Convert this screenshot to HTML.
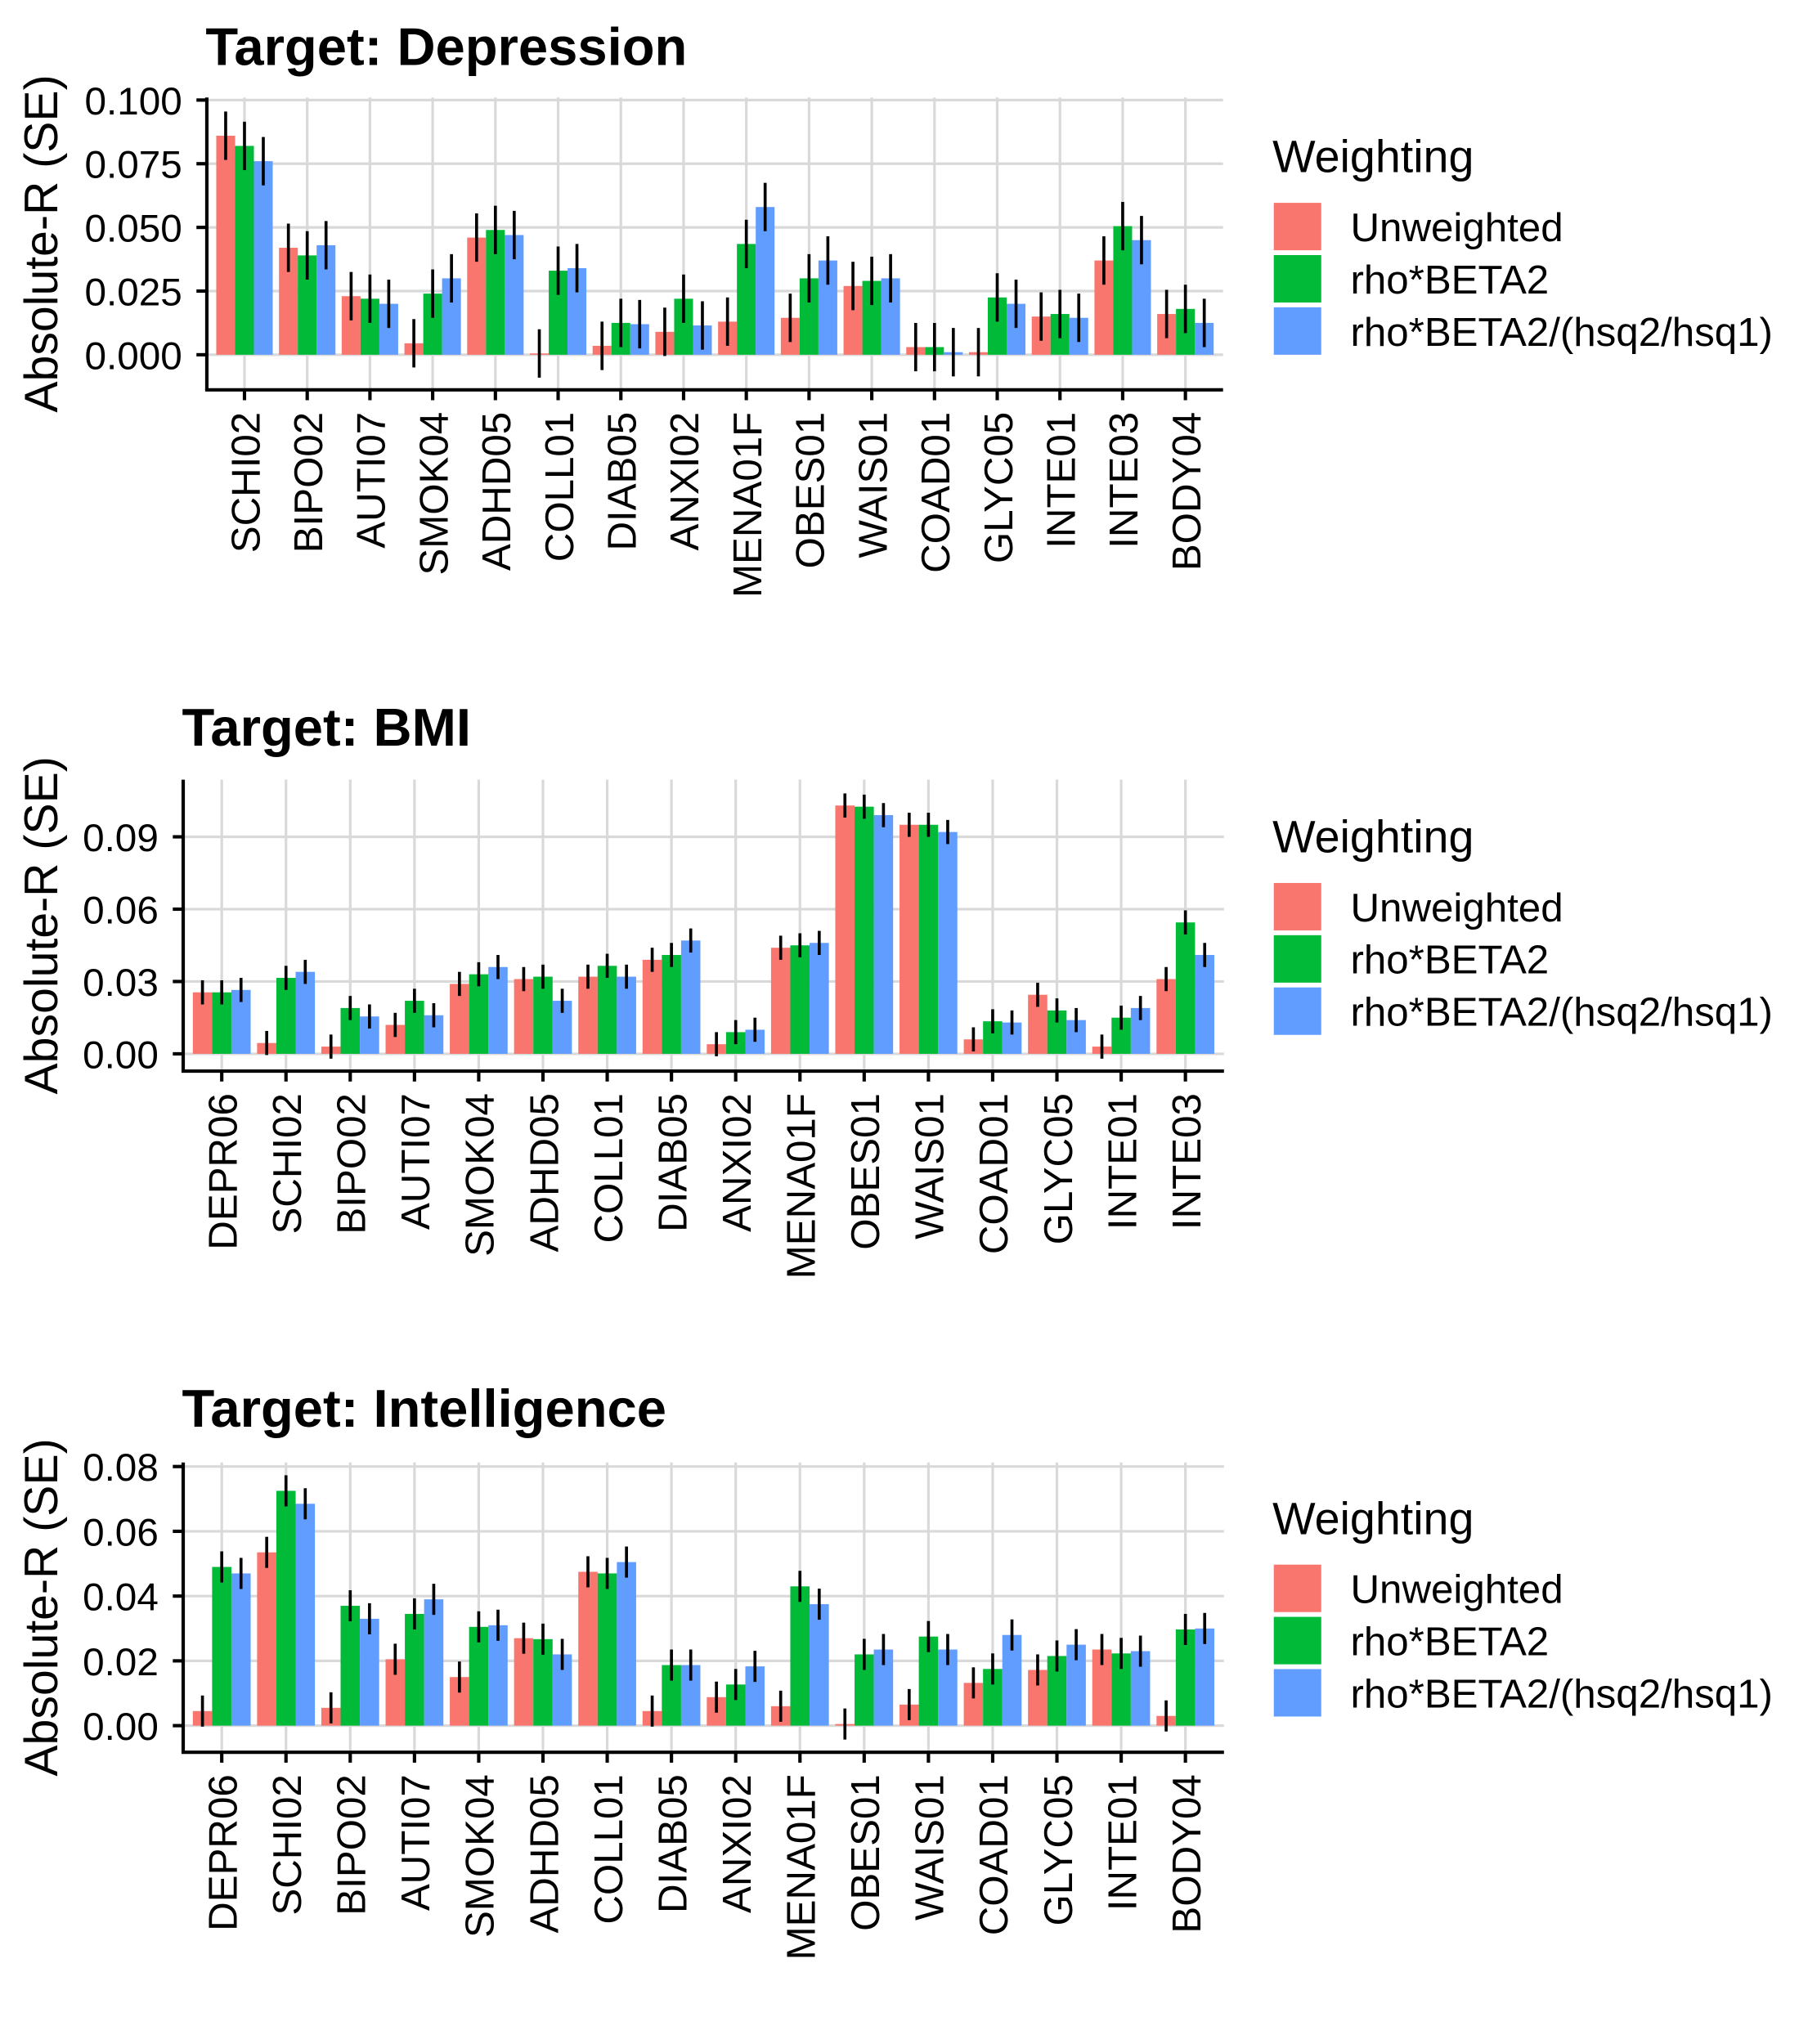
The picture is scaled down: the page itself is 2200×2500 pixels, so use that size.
<!DOCTYPE html>
<html><head><meta charset="utf-8"><style>
html,body{margin:0;padding:0;background:#fff}
svg{display:block}
text{font-family:"Liberation Sans",sans-serif}
</style></head><body>
<svg id="chart" width="2200" height="2500" viewBox="0 0 1384 1573" xmlns="http://www.w3.org/2000/svg"></svg>
<script>
const seriesNames = ["Unweighted","rho*BETA2","rho*BETA2/(hsq2/hsq1)"];
const colors = ["#F8766D","#00BA38","#619CFF"];

const depCats = ["SCHI02","BIPO02","AUTI07","SMOK04","ADHD05","COLL01","DIAB05","ANXI02","MENA01F","OBES01","WAIS01","COAD01","GLYC05","INTE01","INTE03","BODY04"];
const depU = [0.086,0.042,0.023,0.0045,0.046,0.0005,0.0035,0.009,0.013,0.0145,0.027,0.003,0.001,0.015,0.037,0.016];
const depR = [0.082,0.039,0.022,0.024,0.049,0.033,0.0125,0.022,0.0435,0.030,0.029,0.003,0.0225,0.016,0.0505,0.018];
const depH = [0.076,0.043,0.020,0.030,0.047,0.034,0.012,0.0115,0.058,0.037,0.030,0.001,0.020,0.0145,0.045,0.0125];
const depSE = 0.0095;
const depTicks = ["0.000","0.025","0.050","0.075","0.100"];

const bmiCats = ["DEPR06","SCHI02","BIPO02","AUTI07","SMOK04","ADHD05","COLL01","DIAB05","ANXI02","MENA01F","OBES01","WAIS01","COAD01","GLYC05","INTE01","INTE03"];
const bmiU = [0.0255,0.0045,0.003,0.012,0.029,0.031,0.032,0.039,0.004,0.044,0.103,0.095,0.006,0.0245,0.003,0.031];
const bmiR = [0.0255,0.0315,0.019,0.022,0.033,0.032,0.0365,0.041,0.009,0.045,0.1025,0.095,0.0135,0.018,0.015,0.0545];
const bmiH = [0.0265,0.034,0.0155,0.016,0.036,0.022,0.032,0.047,0.010,0.046,0.099,0.092,0.013,0.014,0.019,0.041];
const bmiSE = 0.005;
const bmiTicks = ["0.00","0.03","0.06","0.09"];

const intCats = ["DEPR06","SCHI02","BIPO02","AUTI07","SMOK04","ADHD05","COLL01","DIAB05","ANXI02","MENA01F","OBES01","WAIS01","COAD01","GLYC05","INTE01","BODY04"];
const intU = [0.0045,0.0535,0.0055,0.0205,0.015,0.027,0.0475,0.0045,0.0088,0.006,0.0005,0.0065,0.0132,0.0172,0.0235,0.003];
const intR = [0.049,0.0725,0.037,0.0345,0.0305,0.0267,0.047,0.0187,0.0127,0.043,0.022,0.0275,0.0175,0.0215,0.0223,0.0297];
const intH = [0.047,0.0685,0.033,0.039,0.031,0.022,0.0505,0.0187,0.0183,0.0375,0.0235,0.0235,0.028,0.025,0.023,0.030];
const intSE = 0.0048;
const intTicks = ["0.00","0.02","0.04","0.06","0.08"];

const NS="http://www.w3.org/2000/svg";
const svg=document.getElementById('chart');
function mk(tag,attrs,parent){const e=document.createElementNS(NS,tag);for(const k in attrs)e.setAttribute(k,attrs[k]);(parent||svg).appendChild(e);return e;}

function panel(cfg){
  const g=mk('g',{});
  
  
  const n=cfg.cats.length;
  const step=(cfg.lastX-cfg.firstX)/(n-1);
  const left=cfg.firstX-0.6*step, right=cfg.lastX+0.6*step;
  const y=v=>cfg.y0+(cfg.yRef-cfg.y0)*v/cfg.vRef;
  const x=i=>cfg.firstX+i*step;
  const t=mk('text',{x:left-1,y:cfg.titleY,'font-size':41,'font-weight':'bold',fill:'#000'},g);
  t.textContent=cfg.title;
  
  
  cfg.ticks.forEach(tk=>{
    const gy=y(parseFloat(tk));
    const l=mk('line',{x1:left,x2:right,y1:gy,y2:gy,stroke:'#d9d9d9','stroke-width':2},g);
    
    
  });
  for(let i=0;i<n;i++){
    const l=mk('line',{x1:x(i),x2:x(i),y1:cfg.top,y2:cfg.bottom,stroke:'#d9d9d9','stroke-width':2},g);
    
    
  }
  const gw=0.9*step, bw=gw/3;
  const series=[cfg.u,cfg.r,cfg.h];
  series.forEach((vals,s)=>{
    vals.forEach((v,i)=>{
      const bx=x(i)-gw/2+s*bw;
      const r=mk('rect',{x:bx,y:Math.min(y(v),y(0)),width:bw,height:Math.abs(y(0)-y(v)),fill:colors[s]},g);
      
      
    });
  });
  series.forEach((vals,s)=>{
    vals.forEach((v,i)=>{
      const cx=x(i)-gw/2+(s+0.5)*bw;
      const e=mk('line',{x1:cx,x2:cx,y1:y(v+cfg.se),y2:y(v-cfg.se),stroke:'#000','stroke-width':2.3},g);
      
      
    });
  });
  const ya=mk('line',{x1:left,x2:left,y1:cfg.top,y2:cfg.bottom,stroke:'#000','stroke-width':2.6},g);
  
  
  const xa=mk('line',{x1:left-1.3,x2:right,y1:cfg.bottom,y2:cfg.bottom,stroke:'#000','stroke-width':2.6},g);
  
  
  cfg.ticks.forEach(tk=>{
    const gy=y(parseFloat(tk));
    mk('line',{x1:left-8,x2:left,y1:gy,y2:gy,stroke:'#000','stroke-width':2.6},g);
    const tl=mk('text',{x:left-19,y:gy+11,'font-size':30,'text-anchor':'end',fill:'#000'},g);
    tl.textContent=tk;
    
    
  });
  cfg.cats.forEach((c,i)=>{
    mk('line',{x1:x(i),x2:x(i),y1:cfg.bottom,y2:cfg.bottom+8,stroke:'#000','stroke-width':2.6},g);
    const tl=mk('text',{x:0,y:0,'font-size':31,'text-anchor':'end',fill:'#000',transform:`translate(${x(i)+11.5},${cfg.bottom+17}) rotate(-90)`},g);
    tl.textContent=c;
    
    
  });
  const yt=mk('text',{x:0,y:0,'font-size':36,'text-anchor':'middle',fill:'#000',transform:`translate(44,${(cfg.top+cfg.bottom)/2}) rotate(-90)`},g);
  yt.textContent='Absolute-R (SE)';
  
  
  const lg=mk('g',{},g);
  
  
  const lt=mk('text',{x:979,y:cfg.legY,'font-size':35,fill:'#000'},lg);
  lt.textContent='Weighting';
  
  
  seriesNames.forEach((s,k)=>{
    const ky=cfg.legY+23.5+k*40.2;
    const r=mk('rect',{x:980,y:ky,width:36.5,height:36.5,fill:colors[k]},lg);
    
    
    const tx=mk('text',{x:1039,y:ky+29.5,'font-size':31,fill:'#000'},lg);
    tx.textContent=s;
    
    
  });
}

panel({name:'depression',title:'Target: Depression',titleY:50,cats:depCats,u:depU,r:depR,h:depH,se:depSE,ticks:depTicks,
  firstX:188,lastX:912,y0:273,yRef:77,vRef:0.1,top:75,bottom:300,legY:132.6});
panel({name:'bmi',title:'Target: BMI',titleY:573.7,cats:bmiCats,u:bmiU,r:bmiR,h:bmiH,se:bmiSE,ticks:bmiTicks,
  firstX:170.5,lastX:912,y0:811,yRef:644,vRef:0.09,top:600,bottom:824.3,legY:656});
panel({name:'intelligence',title:'Target: Intelligence',titleY:1098,cats:intCats,u:intU,r:intR,h:intH,se:intSE,ticks:intTicks,
  firstX:170.5,lastX:912,y0:1328,yRef:1128.6,vRef:0.08,top:1125.5,bottom:1348.5,legY:1180.6});
</script>
</body></html>
